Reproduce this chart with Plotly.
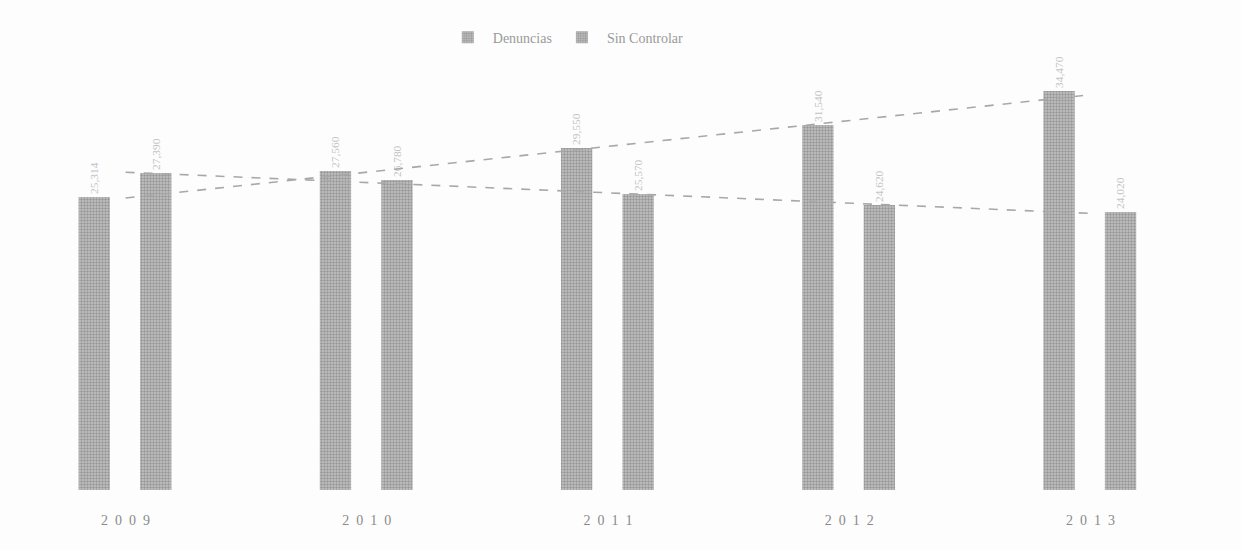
import numpy as np
import plotly.graph_objects as go

years = ["2009", "2010", "2011", "2012", "2013"]
tick_labels = ["2 \u00a00 \u00a00 \u00a09", "2 \u00a00 \u00a01 \u00a00", "2 \u00a00 \u00a01 \u00a01",
               "2 \u00a00 \u00a01 \u00a02", "2 \u00a00 \u00a01 \u00a03"]
denuncias = [25314, 27560, 29550, 31540, 34470]
sin_controlar = [27390, 26780, 25570, 24620, 24020]

idx = np.arange(len(years))

def trend(vals):
    slope, icpt = np.polyfit(idx, vals, 1)
    return slope * idx + icpt

bar_fill = "#b0b0b0"
bar_pattern = dict(shape=".", fgcolor="#6a6a6a", bgcolor="#c4c4c4", size=3, solidity=0.5)
label_font = dict(family="Liberation Serif", size=12, color="#c4c4c4")

fig = go.Figure()
fig.add_trace(go.Bar(
    name="Denuncias", x=idx, y=denuncias, offset=-0.195, width=0.13,
    marker=dict(color=bar_fill, pattern=bar_pattern, line=dict(width=0)),
    text=[f"{v:,}" for v in denuncias], textposition="outside", textangle=-90,
    textfont=label_font, cliponaxis=False,
))
fig.add_trace(go.Bar(
    name="Sin Controlar", x=idx, y=sin_controlar, offset=0.06, width=0.13,
    marker=dict(color=bar_fill, pattern=bar_pattern, line=dict(width=0)),
    text=[f"{v:,}" for v in sin_controlar], textposition="outside", textangle=-90,
    textfont=label_font, cliponaxis=False,
))
for vals in (denuncias, sin_controlar):
    fig.add_trace(go.Scatter(
        x=idx, y=trend(vals), mode="lines", showlegend=False, hoverinfo="skip",
        line=dict(color="#a8a8a8", width=1.6, dash="dash"),
    ))

fig.update_layout(
    width=1241, height=550,
    paper_bgcolor="#fdfdfd", plot_bgcolor="#fdfdfd",
    margin=dict(l=5, r=30, t=60, b=60),
    barmode="overlay",
    showlegend=True,
    legend=dict(orientation="h", x=0.465, xanchor="center", y=1.015, yanchor="bottom",
                itemwidth=40,
                font=dict(family="Liberation Serif", size=14, color="#9a9a9a")),
    xaxis=dict(range=[-0.5, 4.5], tickvals=idx, ticktext=tick_labels,
               showgrid=False, zeroline=False, showline=False, ticks="",
               ticklabelstandoff=20,
               tickfont=dict(family="Liberation Serif", size=14, color="#8a8a8a")),
    yaxis=dict(range=[0, 37150], visible=False),
)

fig.write_html("out.html")
